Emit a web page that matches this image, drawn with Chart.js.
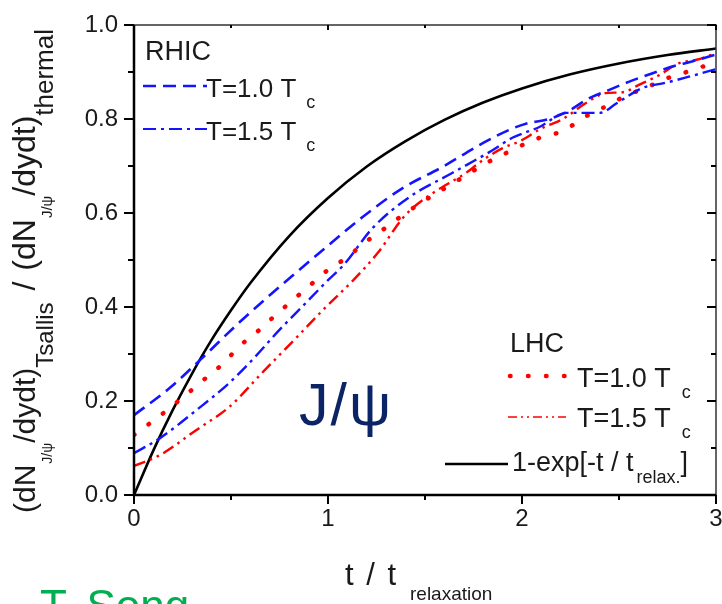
<!DOCTYPE html>
<html>
<head>
<meta charset="utf-8">
<script src="https://cdn.jsdelivr.net/npm/chart.js@4.4.1/dist/chart.umd.min.js"></script>
<style>
  html, body { margin: 0; padding: 0; background: #fff; }
  canvas { display: block; }
</style>
</head>
<body>
<canvas id="relax" width="722" height="604"></canvas>
<script>
// data (t / t_relaxation vs. ratio)
var xTicks = [0, 1, 2, 3];
var yTicks = [0, 0.2, 0.4, 0.6, 0.8, 1.0];

var rhic10T = [0, 0.185, 0.34, 0.545, 0.77, 0.97, 1.18, 1.385, 1.59, 1.80, 1.935, 2.02, 2.14, 2.23, 2.35, 2.45, 2.55, 2.67, 2.77, 2.88, 3.0];
var rhic10V = [0.17, 0.228, 0.287, 0.368, 0.45, 0.52, 0.592, 0.653, 0.698, 0.749, 0.777, 0.79, 0.80, 0.815, 0.845, 0.862, 0.879, 0.897, 0.911, 0.923, 0.937];

var rhic15T = [0, 0.134, 0.32, 0.49, 0.62, 0.74, 0.87, 1.0, 1.08, 1.23, 1.42, 1.64, 1.85, 1.95, 2.09, 2.23, 2.30, 2.40, 2.49, 2.62, 2.74, 2.86, 3.0];
var rhic15V = [0.089, 0.121, 0.18, 0.238, 0.292, 0.347, 0.402, 0.457, 0.489, 0.568, 0.634, 0.685, 0.734, 0.76, 0.783, 0.813, 0.813, 0.813, 0.834, 0.866, 0.877, 0.89, 0.906];

var lhc10T = [0, 0.09, 0.185, 0.365, 0.46, 0.545, 0.64, 0.73, 0.82, 0.91, 1.0, 1.1, 1.18, 1.275, 1.37, 1.455, 1.55, 1.64, 1.73, 1.815, 1.91, 2.09, 2.18, 2.27, 2.36, 2.45, 2.54, 2.64, 2.72, 2.81, 2.90, 3.0];
var lhc10V = [0.128, 0.155, 0.185, 0.247, 0.28, 0.317, 0.349, 0.383, 0.415, 0.447, 0.479, 0.506, 0.534, 0.562, 0.591, 0.615, 0.64, 0.662, 0.685, 0.706, 0.726, 0.76, 0.77, 0.789, 0.813, 0.83, 0.851, 0.866, 0.883, 0.894, 0.908, 0.918];

var lhc15T = [0, 0.134, 0.32, 0.49, 0.665, 0.84, 0.975, 1.13, 1.26, 1.385, 1.455, 1.55, 1.71, 1.80, 1.90, 2.0, 2.1, 2.21, 2.33, 2.43, 2.52, 2.6, 2.71, 2.81, 2.90, 3.0];
var lhc15V = [0.062, 0.085, 0.138, 0.187, 0.262, 0.336, 0.394, 0.457, 0.517, 0.589, 0.617, 0.645, 0.685, 0.713, 0.738, 0.755, 0.78, 0.80, 0.834, 0.855, 0.857, 0.872, 0.894, 0.919, 0.926, 0.94];

var expT = [0, 0.1, 0.2, 0.3, 0.4, 0.5, 0.6, 0.8, 1.0, 1.2, 1.4, 1.6, 1.8, 2.0, 2.25, 2.5, 2.75, 3.0];
var expV = [0, 0.095, 0.181, 0.259, 0.33, 0.393, 0.451, 0.551, 0.632, 0.699, 0.753, 0.798, 0.835, 0.865, 0.895, 0.918, 0.936, 0.95];

var BLUE = "rgb(20,20,255)";
var RED = "rgb(255,0,0)";
var FONT = "'Liberation Sans', Arial, sans-serif";

var dashRhic10 = [13, 7];
var dashRhic15 = [13, 5, 3, 5];
var dashLhc10 = [0.5, 17.5];
var dashLhc15 = [12, 5, 2.5, 5, 2.5, 5];

function pts(xs, ys) {
  var out = [];
  for (var i = 0; i < xs.length; i++) out.push({ x: xs[i], y: ys[i] });
  return out;
}

function series(xs, ys, color, dash, width, cap) {
  return {
    data: pts(xs, ys),
    borderColor: color,
    borderWidth: width,
    borderDash: dash,
    borderCapStyle: cap || "butt",
    pointRadius: 0,
    fill: false,
    cubicInterpolationMode: "monotone"
  };
}

// draw a run of text pieces (main text + subscripts) from x along baseline y
function richText(ctx, x, y, parts) {
  parts.forEach(function (p) {
    ctx.font = p.size + "px " + FONT;
    x += p.dx || 0;
    ctx.fillText(p.t, x, y + (p.dy || 0));
    x += ctx.measureText(p.t).width;
  });
  return x;
}

function sample(ctx, x1, x2, y, color, dash, width, cap) {
  ctx.save();
  ctx.strokeStyle = color;
  ctx.lineWidth = width;
  ctx.setLineDash(dash);
  ctx.lineCap = cap || "butt";
  ctx.beginPath();
  ctx.moveTo(x1, y);
  ctx.lineTo(x2, y);
  ctx.stroke();
  ctx.restore();
}

var decorPlugin = {
  id: "decor",
  afterDraw: function (chart) {
    var ctx = chart.ctx;
    var a = chart.chartArea;
    var xs = chart.scales.x, ys = chart.scales.y;
    ctx.save();

    // frame
    ctx.strokeStyle = "#333";
    ctx.lineWidth = 1.5;
    ctx.beginPath();
    ctx.moveTo(a.left, a.top); ctx.lineTo(a.right, a.top); ctx.lineTo(a.right, a.bottom);
    ctx.stroke();
    ctx.strokeStyle = "#000";
    ctx.lineWidth = 2.5;
    ctx.beginPath();
    ctx.moveTo(a.left, a.top); ctx.lineTo(a.left, a.bottom); ctx.lineTo(a.right, a.bottom);
    ctx.stroke();

    // ticks: outward on left/bottom, inward on right/top
    var v, p, major;
    for (var k = 0; k <= 10; k++) {
      v = k / 10; p = ys.getPixelForValue(v); major = k % 2 === 0;
      ctx.lineWidth = 2;
      ctx.beginPath();
      ctx.moveTo(a.left, p); ctx.lineTo(a.left - (major ? 10 : 6), p);
      ctx.moveTo(a.right, p); ctx.lineTo(a.right - (major ? 9 : 5), p);
      ctx.stroke();
    }
    for (var j = 0; j <= 6; j++) {
      v = j / 2; p = xs.getPixelForValue(v); major = j % 2 === 0;
      ctx.lineWidth = 2;
      ctx.beginPath();
      ctx.moveTo(p, a.bottom); ctx.lineTo(p, a.bottom + (major ? 9 : 5));
      ctx.moveTo(p, a.top); ctx.lineTo(p, a.top + (major ? 5 : 3));
      ctx.stroke();
    }

    ctx.fillStyle = "#1a1a1a";
    ctx.textBaseline = "alphabetic";

    // y axis title (rotated)
    ctx.save();
    ctx.translate(35, 513);
    ctx.rotate(-Math.PI / 2);
    richText(ctx, 0, 0, [
      { t: "(dN", size: 30 },
      { t: "J/\u03c8", size: 14, dy: 17, dx: 1 },
      { t: "/dydt)", size: 30 },
      { t: "Tsallis", size: 24, dy: 18 },
      { t: "/", size: 32, dx: 12 },
      { t: " (dN", size: 32, dx: 2 },
      { t: "J/\u03c8", size: 15, dy: 17, dx: 1 },
      { t: "/dydt)", size: 32 },
      { t: "thermal", size: 26, dy: 18 }
    ]);
    ctx.restore();

    // x axis title
    ctx.save();
    ctx.letterSpacing = "2px";
    richText(ctx, 345, 585, [{ t: "t / t", size: 31 }]);
    ctx.restore();
    richText(ctx, 410, 600, [{ t: "relaxation", size: 19 }]);

    // RHIC legend
    richText(ctx, 145, 60, [{ t: "RHIC", size: 27 }]);
    sample(ctx, 143, 207, 86, BLUE, dashRhic10, 2.6);
    sample(ctx, 143, 207, 129, BLUE, dashRhic15, 2.2);
    richText(ctx, 206, 97, [{ t: "T=1.0 T", size: 26 }, { t: "c", size: 18, dy: 11, dx: 10 }]);
    richText(ctx, 206, 140, [{ t: "T=1.5 T", size: 26 }, { t: "c", size: 18, dy: 11, dx: 10 }]);

    // LHC legend
    richText(ctx, 510, 352, [{ t: "LHC", size: 27 }]);
    sample(ctx, 510, 566, 376, RED, dashLhc10, 4.5, "round");
    sample(ctx, 508, 566, 417, RED, [9, 4, 2, 4, 2, 4], 1.6);
    sample(ctx, 445, 508, 464, "#000", [], 2.6);
    richText(ctx, 577, 387, [{ t: "T=1.0 T", size: 27 }, { t: "c", size: 18, dy: 11, dx: 11 }]);
    richText(ctx, 577, 427, [{ t: "T=1.5 T", size: 27 }, { t: "c", size: 18, dy: 11, dx: 11 }]);
    richText(ctx, 512, 471, [
      { t: "1-exp[-t / t", size: 27 },
      { t: "relax.", size: 18, dy: 12, dx: 3 },
      { t: "]", size: 27 }
    ]);

    // big label
    ctx.fillStyle = "#0a2466";
    ctx.save();
    ctx.letterSpacing = "2px";
    richText(ctx, 299, 425, [{ t: "J/\u03c8", size: 59 }]);
    ctx.restore();

    // author, cut at the bottom edge
    ctx.fillStyle = "#00b050";
    richText(ctx, 40, 621, [{ t: "T. Song", size: 44 }]);

    ctx.restore();
  }
};

var tickFont = { family: FONT, size: 24 };

new Chart(document.getElementById("relax"), {
  type: "line",
  data: {
    datasets: [
      series(rhic10T, rhic10V, BLUE, dashRhic10, 2.6),
      series(rhic15T, rhic15V, BLUE, dashRhic15, 2.4),
      series(lhc10T, lhc10V, RED, dashLhc10, 4.5, "round"),
      series(lhc15T, lhc15V, RED, dashLhc15, 2.4),
      series(expT, expV, "#000", [], 2.6)
    ]
  },
  options: {
    responsive: false,
    animation: false,
    devicePixelRatio: 1,
    layout: { padding: { top: 25, right: 6, left: 0, bottom: 0 } },
    plugins: { legend: { display: false }, tooltip: { enabled: false } },
    scales: {
      x: {
        type: "linear",
        min: 0,
        max: 3,
        afterBuildTicks: function (s) { s.ticks = xTicks.map(function (v) { return { value: v }; }); },
        ticks: { font: tickFont, color: "#1a1a1a", padding: 10, maxRotation: 0,
          callback: function (v) { return String(v); } },
        grid: { display: false, drawTicks: false },
        border: { display: false },
        afterFit: function (s) { s.height = 109; s.paddingLeft = 0; s.paddingRight = 0; }
      },
      y: {
        min: 0,
        max: 1,
        afterBuildTicks: function (s) { s.ticks = yTicks.map(function (v) { return { value: v }; }); },
        ticks: { font: tickFont, color: "#1a1a1a", padding: 16,
          callback: function (v) { return v.toFixed(1); } },
        grid: { display: false, drawTicks: false },
        border: { display: false },
        afterFit: function (s) { s.width = 134; s.paddingTop = 0; s.paddingBottom = 0; }
      }
    }
  },
  plugins: [decorPlugin]
});
</script>
</body>
</html>
